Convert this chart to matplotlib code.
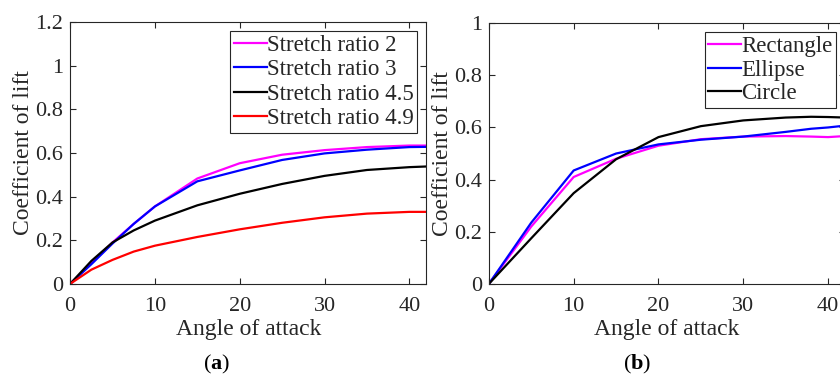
import matplotlib
matplotlib.use("Agg")
import matplotlib.pyplot as plt

# --- DATA ---
angle_a = [0, 2.5, 5, 7.5, 10, 15, 20, 25, 30, 35, 40, 42]
sr_2 = [0, 0.095, 0.19, 0.275, 0.355, 0.483, 0.553, 0.592, 0.613, 0.627, 0.634, 0.634]
sr_3 = [0, 0.09, 0.185, 0.275, 0.355, 0.47, 0.52, 0.568, 0.598, 0.615, 0.627, 0.628]
sr_45 = [0, 0.105, 0.19, 0.245, 0.29, 0.36, 0.413, 0.458, 0.495, 0.522, 0.535, 0.538]
sr_49 = [0, 0.065, 0.11, 0.148, 0.175, 0.215, 0.25, 0.28, 0.305, 0.322, 0.33, 0.33]
labels_a = ["Stretch ratio 2", "Stretch ratio 3", "Stretch ratio 4.5", "Stretch ratio 4.9"]

angle_b = [0, 5, 10, 15, 20, 25, 30, 35, 38, 40, 42]
rectangle = [0, 0.22, 0.41, 0.48, 0.53, 0.555, 0.565, 0.567, 0.565, 0.563, 0.567]
ellipse = [0, 0.235, 0.435, 0.50, 0.535, 0.553, 0.565, 0.583, 0.595, 0.60, 0.607]
circle = [0, 0.175, 0.348, 0.478, 0.563, 0.605, 0.627, 0.638, 0.641, 0.64, 0.638]
labels_b = ["Rectangle", "Ellipse", "Circle"]

COLORS_A = ["#ff00ff", "#0000ff", "#000000", "#ff0000"]
COLORS_B = ["#ff00ff", "#0000ff", "#000000"]
AXCOL = "#262626"

plt.rcParams['font.family'] = ['Liberation Serif', 'DejaVu Serif']
plt.rcParams['mathtext.fontset'] = 'custom'
plt.rcParams['mathtext.rm'] = 'Liberation Serif'
plt.rcParams['mathtext.bf'] = 'Liberation Serif:bold'


def style_axes(ax, ylim, yticks, yticklabels):
    ax.set_xlim(0, 42)
    ax.set_ylim(*ylim)
    ax.set_xticks([0, 10, 20, 30, 40])
    ax.set_yticks(yticks)
    ax.set_yticklabels(yticklabels)
    ax.tick_params(direction='in', top=True, right=True, length=4, width=0.8,
                   labelsize=16, colors=AXCOL)
    ax.tick_params(axis='x', pad=9.5)
    ax.tick_params(axis='y', pad=5)
    for s in ax.spines.values():
        s.set_color(AXCOL)
        s.set_linewidth(0.8)
    ax.set_xlabel("Angle of attack", fontsize=17, color=AXCOL, labelpad=2)
    ax.set_ylabel("Coefficient of lift", fontsize=17, color=AXCOL, labelpad=1)


def style_legend(leg):
    leg.get_frame().set_linewidth(0.8)
    for t in leg.get_texts():
        t.set_color(AXCOL)


fig = plt.figure(figsize=(8.4, 3.74), dpi=100)

# (a) stretch ratio
ax1 = fig.add_axes([0.0835, 0.241, 0.424, 0.700])
for y, c, lab in zip([sr_2, sr_3, sr_45, sr_49], COLORS_A, labels_a):
    ax1.plot(angle_a, y, color=c, lw=1.6, label=lab)
style_axes(ax1, (0, 1.2), [0, 0.2, 0.4, 0.6, 0.8, 1.0, 1.2],
           ["0", "0.2", "0.4", "0.6", "0.8", "1", "1.2"])
leg1 = ax1.legend(loc='upper right', fontsize=16.5, handlelength=1.45, handletextpad=0.0,
                  borderpad=0.15, labelspacing=0.15, fancybox=False,
                  edgecolor=AXCOL, framealpha=1, borderaxespad=0.4)
style_legend(leg1)

# (b) cross-section shape (axes runs past the right edge like the source)
ax2 = fig.add_axes([0.582, 0.241, 0.424, 0.697])
for y, c, lab in zip([rectangle, ellipse, circle], COLORS_B, labels_b):
    ax2.plot(angle_b, y, color=c, lw=1.6, label=lab)
style_axes(ax2, (0, 1.0), [0, 0.2, 0.4, 0.6, 0.8, 1.0],
           ["0", "0.2", "0.4", "0.6", "0.8", "1"])
leg2 = ax2.legend(loc='upper right', fontsize=16.5, handlelength=1.45, handletextpad=0.0,
                  borderpad=0.15, labelspacing=0.12, fancybox=False,
                  edgecolor=AXCOL, framealpha=1, borderaxespad=0.4)
style_legend(leg2)

fig.text(217 / 840, 1 - 364 / 374, r"($\mathbf{a}$)", ha='center', va='center',
         fontsize=16, color='black')
fig.text(637 / 840, 1 - 364 / 374, r"($\mathbf{b}$)", ha='center', va='center',
         fontsize=16, color='black')

fig.savefig("out.png", dpi=100)
